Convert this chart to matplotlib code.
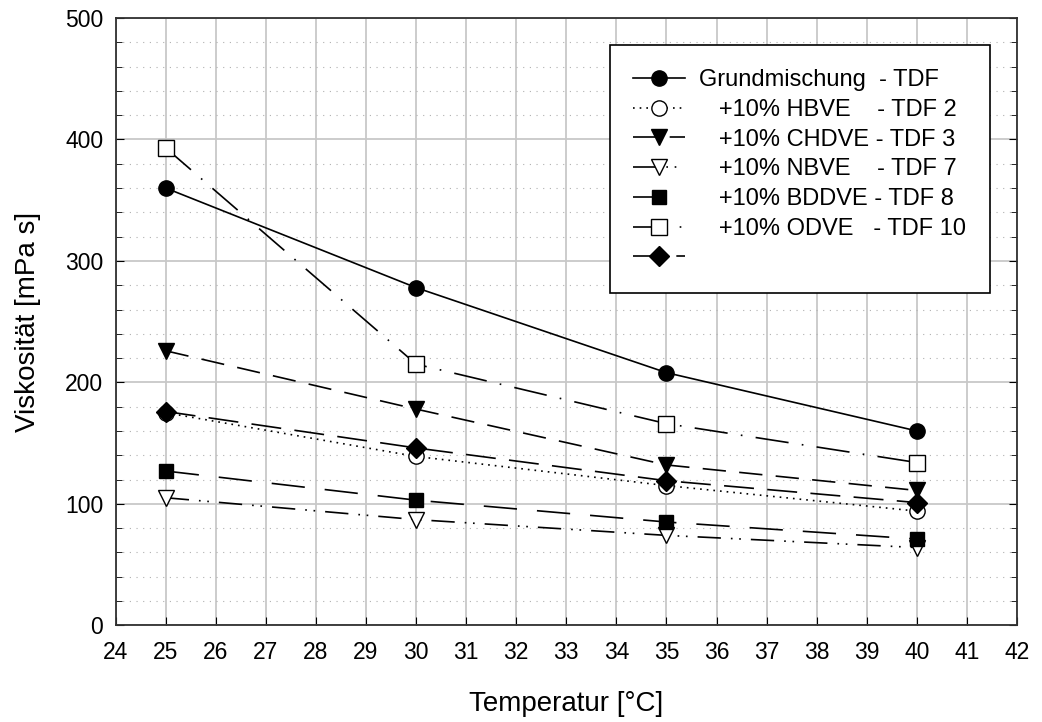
import matplotlib
matplotlib.use('Agg')
from matplotlib import pyplot as plt
from matplotlib.ticker import MultipleLocator

plt.rcParams['font.family'] = ['Liberation Sans', 'DejaVu Sans']

temp = [25, 30, 35, 40]
grund = [360, 278, 208, 160]
hbve = [175, 139, 115, 94]
chdve = [226, 178, 132, 111]
nbve = [105, 87, 74, 64]
bddve = [127, 103, 85, 71]
odve = [393, 215, 166, 134]
extra = [176, 146, 119, 101]

fig = plt.figure(figsize=(10.42, 7.22), dpi=100)
ax = fig.add_axes([0.111, 0.134, 0.865, 0.841])

ax.plot(temp, grund, color='black', lw=1.2, ls='-', marker='o', ms=11,
        label='Grundmischung  - TDF')
ax.plot(temp, hbve, color='black', lw=1.2, ls=(0, (1, 3)), marker='o', ms=11,
        mfc='white', label='   +10% HBVE    - TDF 2')
ax.plot(temp, chdve, color='black', lw=1.2, ls=(0, (14, 8)), marker='v', ms=11,
        label='   +10% CHDVE - TDF 3')
ax.plot(temp, nbve, color='black', lw=1.2, ls=(0, (14, 6, 1, 4, 1, 6)), marker='v', ms=11,
        mfc='white', label='   +10% NBVE    - TDF 7')
ax.plot(temp, bddve, color='black', lw=1.2, ls=(0, (20, 12)), marker='s', ms=10,
        label='   +10% BDDVE - TDF 8')
ax.plot(temp, odve, color='black', lw=1.2, ls=(0, (20, 8, 1, 8)), marker='s', ms=11,
        mfc='white', label='   +10% ODVE   - TDF 10')
ax.plot(temp, extra, color='black', lw=1.2, ls=(0, (18, 8)), marker='D', ms=10,
        label=' ')

ax.set_xlim(24, 42)
ax.set_ylim(0, 500)
ax.xaxis.set_major_locator(MultipleLocator(1))
ax.yaxis.set_major_locator(MultipleLocator(100))
ax.yaxis.set_minor_locator(MultipleLocator(20))
ax.grid(True, which='major', color='#c8c8c8', lw=1.3)
ax.grid(True, which='minor', axis='y', color='#b0b0b0', lw=0.8, ls=(0, (1, 5)))
ax.set_axisbelow(True)
ax.tick_params(which='both', direction='in', right=True, labelsize=16.5)
ax.tick_params(which='major', length=6)
ax.tick_params(which='minor', length=4)
ax.tick_params(axis='x', pad=11)
ax.tick_params(axis='y', pad=9)
for s in ax.spines.values():
    s.set_color('#303030')
    s.set_linewidth(1.3)

ax.set_xlabel('Temperatur [°C]', fontsize=20, labelpad=20)
ax.set_ylabel('Viskosität [mPa s]', fontsize=20, labelpad=17)

leg = ax.legend(loc='upper right', bbox_to_anchor=(0.97, 0.955), fontsize=17,
                frameon=True, fancybox=False, edgecolor='black', framealpha=1,
                borderpad=1.0, handlelength=2.2, handletextpad=0.6,
                borderaxespad=0, labelspacing=0.33)
leg.get_frame().set_linewidth(1.2)

fig.savefig('out.png', dpi=100)
